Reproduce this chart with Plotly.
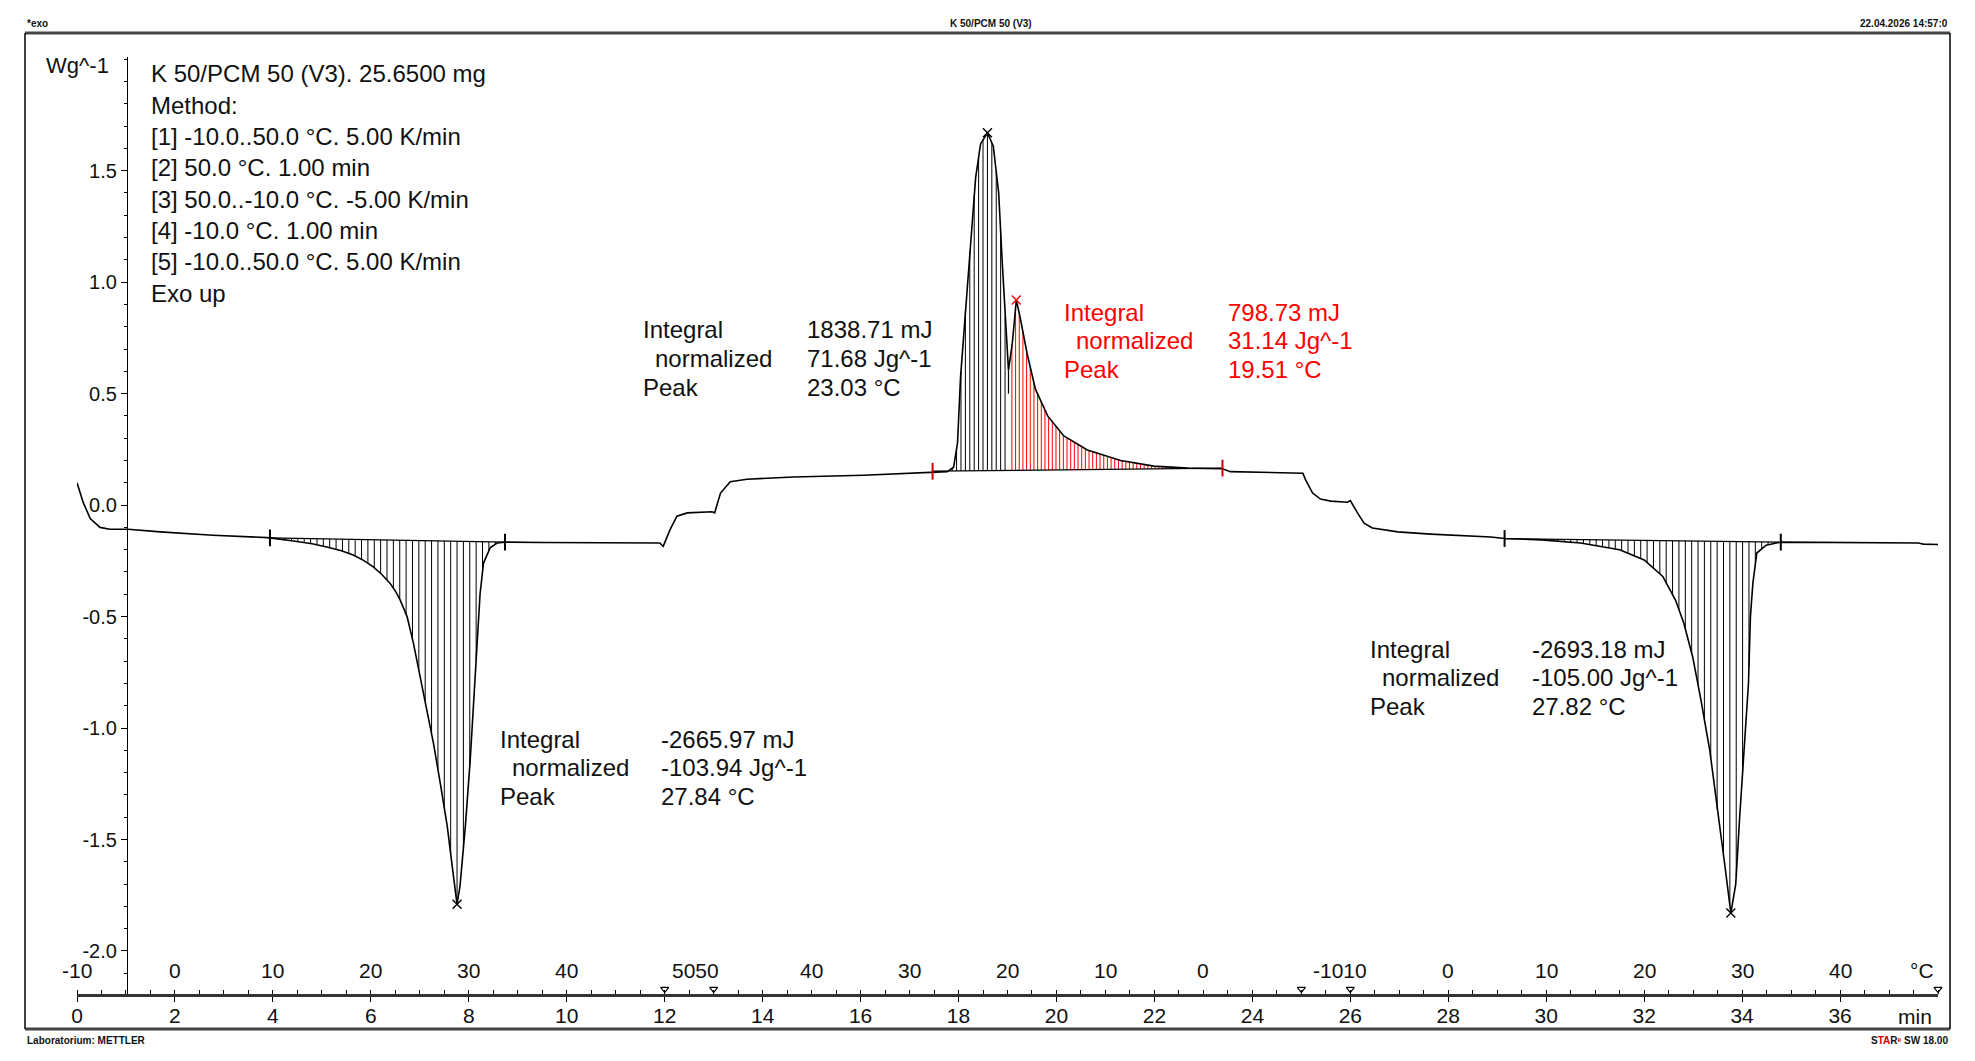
import numpy as np
import plotly.graph_objects as go

# ---------------- data ----------------
# heating 1 (-10 -> 50 degC), time in min, heat flow in W/g
t_heat1 = [0.0, 0.13, 0.27, 0.47, 0.67, 1.04, 1.70, 2.78, 3.88, 3.94, 4.42, 4.80, 5.10, 5.40,
           5.64, 5.85, 6.05, 6.22, 6.39, 6.50, 6.60, 6.74, 6.87, 7.01, 7.15, 7.28, 7.42, 7.56,
           7.69, 7.76, 7.82, 7.93, 8.03, 8.09, 8.17, 8.23, 8.30, 8.44, 8.58, 8.74, 9.50, 10.50,
           11.50, 11.90, 11.97]
y_heat1 = [0.10, 0.01, -0.06, -0.10, -0.108, -0.108, -0.12, -0.135, -0.146, -0.147, -0.161,
           -0.173, -0.188, -0.205, -0.224, -0.248, -0.277, -0.31, -0.35, -0.385, -0.426, -0.50,
           -0.62, -0.77, -0.92, -1.07, -1.25, -1.44, -1.67, -1.79, -1.71, -1.44, -1.14, -0.92,
           -0.62, -0.40, -0.26, -0.19, -0.17, -0.166, -0.168, -0.17, -0.17, -0.17, -0.185]

# isotherm 50 degC + cooling (50 -> -10 degC)
t_cool = [12.11, 12.25, 12.46, 12.97, 13.02, 13.14, 13.34, 13.68, 14.63, 16.06, 17.43, 17.77,
          17.90, 17.98, 18.04, 18.14, 18.24, 18.35, 18.45, 18.59, 18.71, 18.82, 18.89, 18.96,
          19.02, 19.10, 19.18, 19.26, 19.40, 19.57, 19.82, 20.15, 20.63, 21.31, 21.99, 22.68,
          23.39, 23.55, 24.20, 25.03]
y_cool = [-0.11, -0.05, -0.035, -0.03, -0.035, 0.054, 0.105, 0.116, 0.126, 0.134, 0.145, 0.15,
          0.17, 0.28, 0.57, 0.87, 1.17, 1.47, 1.62, 1.67, 1.61, 1.40, 1.10, 0.80, 0.605, 0.73,
          0.92, 0.84, 0.68, 0.52, 0.40, 0.31, 0.247, 0.20, 0.175, 0.166, 0.163, 0.15, 0.148, 0.143]

# isotherm -10 degC + heating 2 (-10 -> 50 degC)
t_heat2 = [25.09, 25.23, 25.39, 25.60, 25.94, 26.00, 26.15, 26.28, 26.45, 26.97, 27.64, 28.87,
           29.15, 29.90, 30.70, 31.50, 32.00, 32.38, 32.64, 32.81, 32.99, 33.16, 33.34, 33.51,
           33.65, 33.77, 33.87, 33.95, 34.04, 34.13, 34.17, 34.22, 34.30, 34.49, 34.79, 36.00,
           37.60, 37.70, 38.00]
y_heat2 = [0.112, 0.054, 0.027, 0.018, 0.013, 0.02, -0.036, -0.081, -0.103, -0.12, -0.13, -0.143,
           -0.150, -0.156, -0.17, -0.20, -0.246, -0.32, -0.426, -0.53, -0.68, -0.875, -1.10, -1.40,
           -1.62, -1.83, -1.70, -1.40, -1.10, -0.80, -0.50, -0.35, -0.215, -0.18, -0.166, -0.168,
           -0.170, -0.175, -0.177]

# integration limits (time, heat flow) and split point
peak1_limits = [(3.94, -0.147), (8.74, -0.166)]
exo_limits = [(17.47, 0.152), (23.39, 0.166)]
exo_split_t = 19.02
peak3_limits = [(29.15, -0.150), (34.79, -0.166)]

# peak markers
peak_t_black = [7.76, 18.59, 33.77]
peak_y_black = [-1.79, 1.67, -1.83]
peak_t_red = [19.18]
peak_y_red = [0.92]

# segment boundaries of the method (min)
segment_times = [12, 13, 25, 26, 38]

# axis ticks
time_tick_vals = list(range(0, 37, 2))
time_tick_text = [str(v) for v in time_tick_vals]
temp_label_times = [0, 2, 4, 6, 8, 10, 12.62, 15, 17, 19, 21, 23, 25.78, 28, 30, 32, 34, 36]
temp_label_text = ["-10", "0", "10", "20", "30", "40", "5050", "40", "30", "20", "10", "0",
                   "-1010", "0", "10", "20", "30", "40"]
y_tick_vals = [-2.0, -1.5, -1.0, -0.5, 0.0, 0.5, 1.0, 1.5]
y_tick_text = ["-2.0", "-1.5", "-1.0", "-0.5", "0.0", "0.5", "1.0", "1.5"]

# text blocks
method_lines = ["K 50/PCM 50 (V3). 25.6500 mg", "Method:", "[1] -10.0..50.0 °C. 5.00 K/min",
                "[2] 50.0 °C. 1.00 min", "[3] 50.0..-10.0 °C. -5.00 K/min",
                "[4] -10.0 °C. 1.00 min", "[5] -10.0..50.0 °C. 5.00 K/min", "Exo up"]
res_labels = ["Integral", "  normalized", "Peak"]
res_exo_black = ["1838.71 mJ", "71.68 Jg^-1", "23.03 °C"]
res_exo_red = ["798.73 mJ", "31.14 Jg^-1", "19.51 °C"]
res_peak1 = ["-2665.97 mJ", "-103.94 Jg^-1", "27.84 °C"]
res_peak3 = ["-2693.18 mJ", "-105.00 Jg^-1", "27.82 °C"]

# ---------------- figure ----------------
W, H = 1975, 1061
PX0, PX1, PY0, PY1 = 77, 1938, 57, 994
Y_RANGE = [-2.193, 2.01]
X_RANGE = [0, 38]
FONT = "Liberation Sans, Arial, sans-serif"
INK = "#111111"


def paper(X, Y):
    return (X - PX0) / (PX1 - PX0), (PY1 - Y) / (PY1 - PY0)


t_all = np.array(t_heat1 + t_cool + t_heat2)
y_all = np.array(y_heat1 + y_cool + y_heat2)


def hatch(lims, t_from, t_to, step):
    (ta, ya), (tb, yb) = lims
    xs, ys = [], []
    for x in np.arange(t_from, t_to, step):
        yc = float(np.interp(x, t_all, y_all))
        ybase = ya + (yb - ya) * (x - ta) / (tb - ta)
        if abs(yc - ybase) > 0.004:
            xs += [x, x, None]
            ys += [ybase, yc, None]
    return xs, ys


hx1, hy1 = hatch(peak1_limits, peak1_limits[0][0] + 0.05, peak1_limits[1][0], 0.13)
hx2, hy2 = hatch(exo_limits, 17.78, exo_split_t + 0.01, 0.09)
hx3, hy3 = hatch(peak3_limits, peak3_limits[0][0] + 0.05, peak3_limits[1][0], 0.13)
hxr, hyr = hatch(exo_limits, exo_split_t + 0.07, exo_limits[1][0], 0.075)

fig = go.Figure()
fig.add_trace(go.Scatter(x=hx1 + hx2 + hx3, y=hy1 + hy2 + hy3, mode="lines",
                         line=dict(color="#000000", width=1), hoverinfo="skip"))
fig.add_trace(go.Scatter(x=hxr, y=hyr, mode="lines",
                         line=dict(color="#ff0000", width=1), hoverinfo="skip"))
bx, by = [], []
for lims in (peak1_limits, exo_limits, peak3_limits):
    bx += [lims[0][0], lims[1][0], None]
    by += [lims[0][1], lims[1][1], None]
fig.add_trace(go.Scatter(x=bx, y=by, mode="lines", line=dict(color="#000000", width=1.2),
                         hoverinfo="skip"))
fig.add_trace(go.Scatter(x=t_all, y=y_all, mode="lines",
                         line=dict(color="#000000", width=1.6)))
# split line at the dip
fig.add_trace(go.Scatter(x=[exo_split_t, exo_split_t],
                         y=[float(np.interp(exo_split_t, t_all, y_all)), 0.50],
                         mode="lines", line=dict(color="#000000", width=1.2)))
fig.add_trace(go.Scatter(x=peak_t_black, y=peak_y_black, mode="markers",
                         marker=dict(symbol="x-thin-open", size=9, color="#000000",
                                     line=dict(color="#000000", width=1.4))))
fig.add_trace(go.Scatter(x=peak_t_red, y=peak_y_red, mode="markers",
                         marker=dict(symbol="x-thin-open", size=9, color="#ff0000",
                                     line=dict(color="#ff0000", width=1.4))))
lim_black = peak1_limits + peak3_limits
fig.add_trace(go.Scatter(x=[p[0] for p in lim_black], y=[p[1] for p in lim_black],
                         mode="markers",
                         marker=dict(symbol="line-ns-open", size=12, color="#000000",
                                     line=dict(color="#000000", width=2))))
fig.add_trace(go.Scatter(x=[p[0] for p in exo_limits], y=[p[1] for p in exo_limits],
                         mode="markers",
                         marker=dict(symbol="line-ns-open", size=12, color="#cc0000",
                                     line=dict(color="#cc0000", width=2))))
fig.add_trace(go.Scatter(x=segment_times, y=[Y_RANGE[0] + 0.022] * len(segment_times),
                         mode="markers", cliponaxis=False,
                         marker=dict(symbol="triangle-down-open", size=7, color="#000000",
                                     line=dict(color="#000000", width=1.2))))

ann = []


def text(X, Y, s, size=24, color=INK, anchor="left", weight=None):
    px_, py_ = paper(X, Y)
    ann.append(dict(x=px_, y=py_, xref="paper", yref="paper", text=s, showarrow=False,
                    xanchor=anchor, yanchor="middle",
                    font=dict(family=FONT, size=size, color=color,
                              weight=weight if weight else "normal")))


for i, s in enumerate(method_lines):
    text(149, 74 + i * 31.3, s)
text(44, 66, "Wg^-1", size=22)


def block(Xl, Xv, Y, vals, color=INK):
    for i, (a, b) in enumerate(zip(res_labels, vals)):
        yy = Y + i * 28.8
        text(Xl + (12 if a.startswith(" ") else 0), yy, a.strip(), color=color)
        text(Xv, yy, b, color=color)


block(641, 805, 330, res_exo_black)
block(1062, 1226, 312, res_exo_red, color="#ff0000")
block(498, 659, 739, res_peak1)
block(1368, 1530, 649, res_peak3)

# temperature scale labels
for tt, s in zip(temp_label_times, temp_label_text):
    ann.append(dict(x=tt, y=paper(0, 970)[1], xref="x", yref="paper", text=s,
                    showarrow=False, xanchor="center", yanchor="middle",
                    font=dict(family=FONT, size=21, color=INK)))
text(1922, 970, "°C", size=21, anchor="center")
text(1915, 1016, "min", size=21, anchor="center")

# header / footer
text(25, 24, "*exo", size=10, weight="bold")
text(991, 24, "K 50/PCM 50 (V3)", size=10, anchor="center", weight="bold")
text(1950, 24, "22.04.2026 14:57:0", size=10, anchor="right", weight="bold")
text(25, 1040, "Laboratorium: METTLER", size=10, weight="bold")
text(1950, 1040, "S<span style='color:#d00000'>TA</span>R<span style='color:#d00000'>ᵉ</span> SW 18.00",
     size=10, anchor="right", weight="bold")

# frame
fx0, fy1 = paper(25, 33)
fx1, fy0 = paper(1950, 1029)
shapes = [
    dict(type="line", xref="paper", yref="paper", x0=fx0, x1=fx1, y0=fy1, y1=fy1,
         line=dict(color="#444444", width=3)),
    dict(type="line", xref="paper", yref="paper", x0=fx0, x1=fx1, y0=fy0, y1=fy0,
         line=dict(color="#444444", width=3)),
    dict(type="line", xref="paper", yref="paper", x0=fx0, x1=fx0, y0=fy0, y1=fy1,
         line=dict(color="#000000", width=1.5)),
    dict(type="line", xref="paper", yref="paper", x0=fx1, x1=fx1, y0=fy0, y1=fy1,
         line=dict(color="#000000", width=1.5)),
]

fig.update_layout(
    width=W, height=H,
    margin=dict(l=PX0, r=W - PX1, t=PY0, b=H - PY1),
    paper_bgcolor="white", plot_bgcolor="white",
    showlegend=False,
    annotations=ann, shapes=shapes,
    xaxis=dict(range=X_RANGE, showgrid=False, zeroline=False, showline=True,
               linecolor="#333333", linewidth=2.5, tickmode="array",
               tickvals=time_tick_vals, ticktext=time_tick_text, ticks="outside",
               ticklen=5, tickwidth=1.2, tickcolor="#000000",
               ticklabelstandoff=-4,
               tickfont=dict(family=FONT, size=21, color=INK),
               minor=dict(ticks="inside", dtick=0.5, tick0=0, ticklen=4, tickwidth=1,
                          tickcolor="#000000")),
    yaxis=dict(range=Y_RANGE, showgrid=False, zeroline=False, showline=True,
               linecolor="#000000", linewidth=1.3, anchor="free",
               position=(127 - PX0) / (PX1 - PX0),
               tickmode="array", tickvals=y_tick_vals, ticktext=y_tick_text,
               ticks="outside", ticklen=6, tickwidth=1.2, tickcolor="#000000",
               tickfont=dict(family=FONT, size=20, color=INK),
               minor=dict(ticks="outside", dtick=0.1, tick0=0, ticklen=3, tickwidth=1,
                          tickcolor="#000000")),
)

fig.write_html("out.html")
